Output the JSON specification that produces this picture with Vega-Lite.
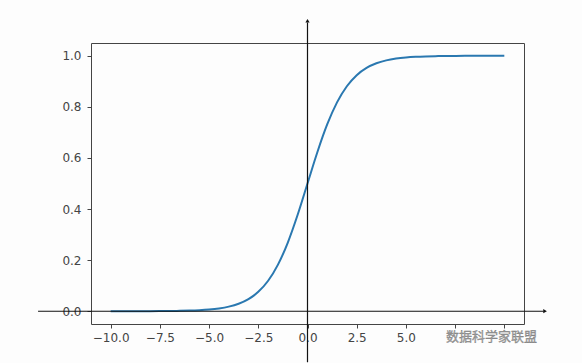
{
  "$schema": "https://vega.github.io/schema/vega-lite/v6.json",
  "autosize": {"type": "none"},
  "padding": {"left": 91, "top": 43, "right": 58, "bottom": 39},
  "width": 433,
  "height": 281,
  "background": "#fdfdfd",
  "config": {
    "view": {"stroke": "#444", "strokeWidth": 1},
    "axis": {
      "grid": false,
      "domain": false,
      "tickColor": "#444",
      "tickSize": 4,
      "labelColor": "#444",
      "labelFont": "DejaVu Sans",
      "labelFontSize": 12,
      "title": null
    }
  },
  "layer": [
    {
      "data": {"values": [
        {"x": -10, "y": 0.0000454}, {"x": -9.5, "y": 0.0000749}, {"x": -9, "y": 0.000123},
        {"x": -8.5, "y": 0.000203}, {"x": -8, "y": 0.000335}, {"x": -7.5, "y": 0.000553},
        {"x": -7, "y": 0.000911}, {"x": -6.5, "y": 0.001501}, {"x": -6, "y": 0.002473},
        {"x": -5.5, "y": 0.00407}, {"x": -5, "y": 0.006693}, {"x": -4.5, "y": 0.010987},
        {"x": -4, "y": 0.017986}, {"x": -3.5, "y": 0.029312}, {"x": -3, "y": 0.047426},
        {"x": -2.5, "y": 0.075858}, {"x": -2, "y": 0.119203}, {"x": -1.5, "y": 0.182426},
        {"x": -1, "y": 0.268941}, {"x": -0.5, "y": 0.377541}, {"x": 0, "y": 0.5},
        {"x": 0.5, "y": 0.622459}, {"x": 1, "y": 0.731059}, {"x": 1.5, "y": 0.817574},
        {"x": 2, "y": 0.880797}, {"x": 2.5, "y": 0.924142}, {"x": 3, "y": 0.952574},
        {"x": 3.5, "y": 0.970688}, {"x": 4, "y": 0.982014}, {"x": 4.5, "y": 0.989013},
        {"x": 5, "y": 0.993307}, {"x": 5.5, "y": 0.99593}, {"x": 6, "y": 0.997527},
        {"x": 6.5, "y": 0.998499}, {"x": 7, "y": 0.999089}, {"x": 7.5, "y": 0.999447},
        {"x": 8, "y": 0.999665}, {"x": 8.5, "y": 0.999797}, {"x": 9, "y": 0.999877},
        {"x": 9.5, "y": 0.999925}, {"x": 10, "y": 0.999955}
      ]},
      "mark": {"type": "line", "color": "#2a78b0", "strokeWidth": 2, "interpolate": "monotone"},
      "encoding": {
        "x": {"field": "x", "type": "quantitative",
              "scale": {"domain": [-11, 11], "nice": false, "zero": false},
              "axis": {"values": [-10, -7.5, -5, -2.5, 0, 2.5, 5, 7.5, 10], "format": ".1f", "labelPadding": 4,
                       "labelExpr": "datum.value > 6 ? '' : datum.label"}},
        "y": {"field": "y", "type": "quantitative",
              "scale": {"domain": [-0.05, 1.05], "nice": false, "zero": false},
              "axis": {"values": [0, 0.2, 0.4, 0.6, 0.8, 1.0], "format": ".1f", "labelPadding": 6}}
      }
    },
    {
      "data": {"values": [{"x": -13.69, "x2": 12.0, "y": 0}]},
      "mark": {"type": "rule", "color": "#111", "strokeWidth": 1.2},
      "encoding": {
        "x": {"field": "x", "type": "quantitative"},
        "x2": {"field": "x2"},
        "y": {"field": "y", "type": "quantitative"}
      }
    },
    {
      "data": {"values": [{"x": 0, "y": -0.2, "y2": 1.13}]},
      "mark": {"type": "rule", "color": "#111", "strokeWidth": 1.2},
      "encoding": {
        "x": {"field": "x", "type": "quantitative"},
        "y": {"field": "y", "type": "quantitative"},
        "y2": {"field": "y2"}
      }
    },
    {
      "data": {"values": [
        {"x": 12.07, "y": 0, "shape": "triangle-right"},
        {"x": 0, "y": 1.137, "shape": "triangle-up"}
      ]},
      "mark": {"type": "point", "filled": true, "color": "#111", "size": 18, "opacity": 1},
      "encoding": {
        "x": {"field": "x", "type": "quantitative"},
        "y": {"field": "y", "type": "quantitative"},
        "shape": {"field": "shape", "type": "nominal", "scale": null}
      }
    },
    {
      "data": {"values": [{"x": 9.35, "y": -0.1, "label": "数据科学家联盟"}]},
      "mark": {"type": "text", "font": "Noto Sans CJK SC", "fontSize": 13, "color": "#a0a0a0", "stroke": "#777", "strokeWidth": 0.3, "align": "center", "baseline": "middle"},
      "encoding": {
        "x": {"field": "x", "type": "quantitative"},
        "y": {"field": "y", "type": "quantitative"},
        "text": {"field": "label"}
      }
    }
  ]
}
